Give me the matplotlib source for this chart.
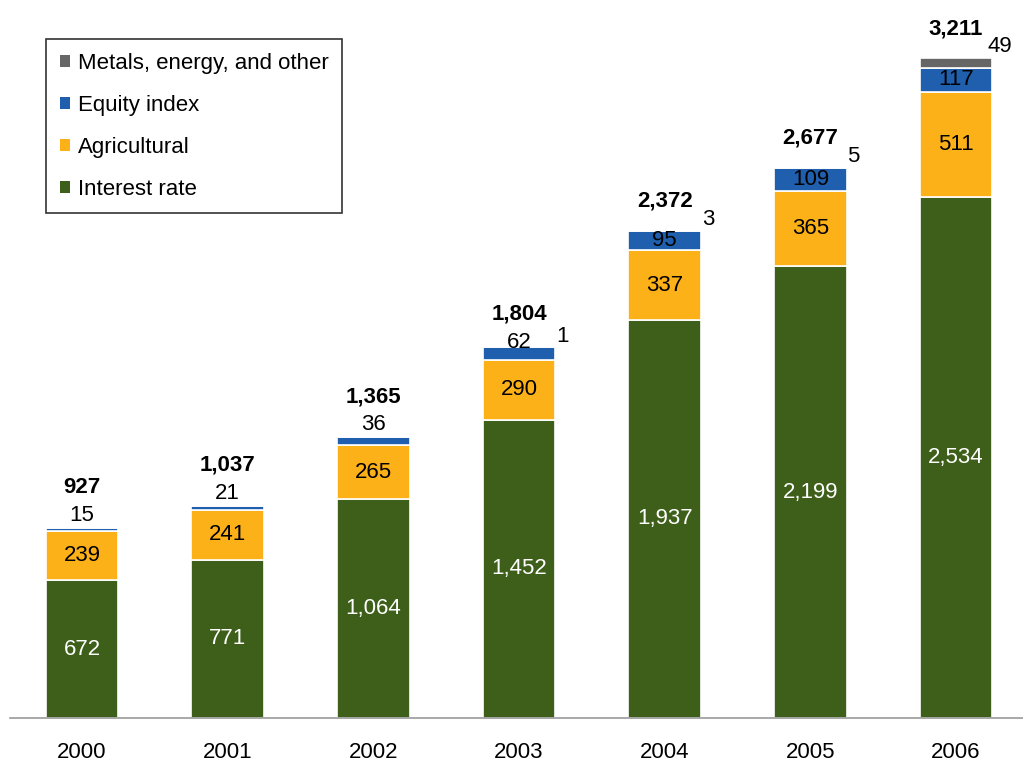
import matplotlib
matplotlib.use("Agg")
import matplotlib.pyplot as plt
import numpy as np

plt.rcParams['font.family'] = ['Liberation Sans', 'DejaVu Sans']

years = ['2000', '2001', '2002', '2003', '2004', '2005', '2006']
interest = [672, 771, 1064, 1452, 1937, 2199, 2534]
agricultural = [239, 241, 265, 290, 337, 365, 511]
equity = [15, 21, 36, 62, 95, 109, 117]
metals = [0, 0, 0, 1, 3, 5, 49]
totals = [927, 1037, 1365, 1804, 2372, 2677, 3211]

c_int = '#3D5F19'
c_agr = '#FDB118'
c_eq = '#1F5FAD'
c_met = '#666666'

fig = plt.figure(figsize=(10.23, 7.64), dpi=100)
ax = fig.add_axes([0.0098, 0.060, 0.9902, 0.940])
x = np.arange(len(years))
w = 0.5
ec = 'white'
lw = 1.2

b1 = ax.bar(x, interest, w, color=c_int, edgecolor=ec, linewidth=lw, label='Interest rate')
bot2 = np.array(interest)
b2 = ax.bar(x, agricultural, w, bottom=bot2, color=c_agr, edgecolor=ec, linewidth=lw, label='Agricultural')
bot3 = bot2 + np.array(agricultural)
b3 = ax.bar(x, equity, w, bottom=bot3, color=c_eq, edgecolor=ec, linewidth=lw, label='Equity index')
bot4 = bot3 + np.array(equity)
b4 = ax.bar(x, metals, w, bottom=bot4, color=c_met, edgecolor=ec, linewidth=lw, label='Metals, energy, and other')

fs = 16
for i in range(len(years)):
    ax.text(x[i], interest[i] / 2, f'{interest[i]:,}', ha='center', va='center',
            color='white', fontsize=fs)
    ax.text(x[i], bot2[i] + agricultural[i] / 2, f'{agricultural[i]:,}', ha='center',
            va='center', color='black', fontsize=fs)
    top = totals[i]
    if equity[i] < 50:
        ax.annotate(f'{equity[i]}', (x[i], bot4[i]), xytext=(0, 9), textcoords='offset points',
                    ha='center', va='center', fontsize=fs)
        ax.annotate(f'{totals[i]:,}', (x[i], top), xytext=(0, 29), textcoords='offset points',
                    ha='center', va='center', fontsize=fs, fontweight='bold')
    elif equity[i] < 80:
        ax.annotate(f'{equity[i]}', (x[i], bot3[i] + equity[i]), xytext=(0, 3), textcoords='offset points',
                    ha='center', va='center', fontsize=fs)
        ax.annotate(f'{totals[i]:,}', (x[i], top), xytext=(0, 24), textcoords='offset points',
                    ha='center', va='center', fontsize=fs, fontweight='bold')
    else:
        ax.text(x[i], bot3[i] + equity[i] / 2, f'{equity[i]}', ha='center', va='center',
                color='black', fontsize=fs)
        ax.annotate(f'{totals[i]:,}', (x[i], top), xytext=(0, 21), textcoords='offset points',
                    ha='center', va='center', fontsize=fs, fontweight='bold')
    if metals[i] > 0:
        ax.annotate(f'{metals[i]}', (x[i] + w / 2, top), xytext=(5, 8), textcoords='offset points',
                    ha='center', va='center', fontsize=fs)

ax.set_xlim(-0.494, 6.46)
ax.set_ylim(0, 3492)
ax.set_xticks(x)
ax.set_xticklabels(years, fontsize=fs)
ax.tick_params(axis='x', length=0, pad=17)
ax.set_yticks([])
for s in ['left', 'right', 'top']:
    ax.spines[s].set_visible(False)
ax.spines['bottom'].set_color('#999999')
ax.spines['bottom'].set_linewidth(1.2)

handles = [b4, b3, b2, b1]
leg = ax.legend(handles, [h.get_label() for h in handles], loc='upper left',
                bbox_to_anchor=(0.036, 0.945), fontsize=fs, frameon=True, fancybox=False,
                handlelength=0.45, handleheight=0.45, handletextpad=0.35, labelspacing=0.95,
                borderpad=0.6, borderaxespad=0)
leg.get_frame().set_edgecolor('black')
leg.get_frame().set_linewidth(1.2)
for p in leg.get_patches():
    p.set_edgecolor('none')

fig.savefig('out.png', dpi=100)
